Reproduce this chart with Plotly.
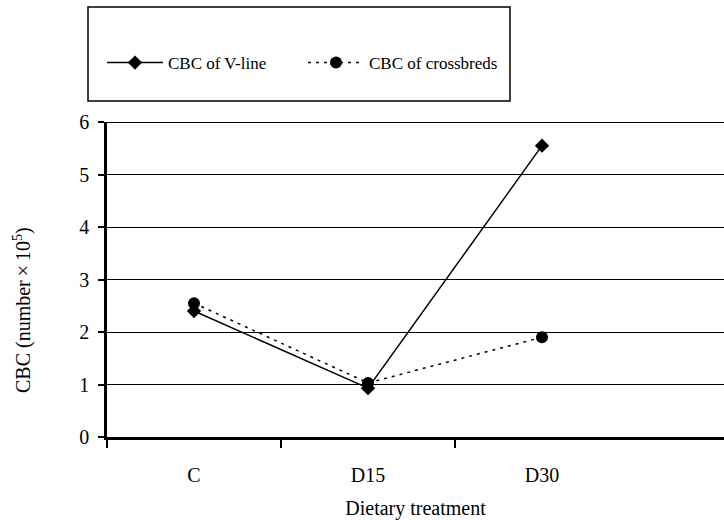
import plotly.graph_objects as go

categories = ["C", "D15", "D30"]
vline = [2.4, 0.93, 5.55]
crossbreds = [2.55, 1.03, 1.9]
yticks = [0, 1, 2, 3, 4, 5, 6]

FONT = "Liberation Serif"
xpos = list(range(len(categories)))

L, T, B = 107, 122, 83
PW, PH = 724 - L, 520 - T - B

fig = go.Figure()
fig.add_trace(go.Scatter(
    x=xpos, y=vline, mode="lines+markers", name="CBC of V-line",
    line=dict(color="black", width=1.5),
    marker=dict(symbol="diamond", size=11, color="black"),
))
fig.add_trace(go.Scatter(
    x=xpos, y=crossbreds, mode="lines+markers", name="CBC of crossbreds",
    line=dict(color="black", width=1.5, dash="3px,5px"),
    marker=dict(symbol="circle", size=12, color="black"),
))

# legend frame
fig.add_shape(type="rect", xref="paper", yref="paper",
              x0=(88 - L) / PW, x1=(510 - L) / PW,
              y0=(520 - B - 101) / PH, y1=(520 - B - 7) / PH,
              line=dict(color="black", width=1.5), fillcolor="rgba(0,0,0,0)")
# top border line of plot
fig.add_shape(type="line", xref="paper", yref="y", x0=0, x1=1, y0=6, y1=6,
              line=dict(color="black", width=2))

# y-axis title
fig.add_annotation(text="CBC (number\u2009×\u200910<sup>5</sup>)", xref="paper", yref="paper",
                   x=(22 - L) / PW, y=(520 - B - 310) / PH, textangle=-90,
                   showarrow=False, xanchor="center", yanchor="middle",
                   font=dict(family=FONT, size=20, color="black"))

fig.update_layout(
    width=724, height=520,
    margin=dict(l=L, r=0, t=T, b=B, autoexpand=False),
    paper_bgcolor="white", plot_bgcolor="white",
    font=dict(family=FONT, size=19, color="black"),
    showlegend=True,
    legend=dict(orientation="h", x=(102 - L) / PW, y=(520 - B - 63) / PH,
                xanchor="left", yanchor="middle", bgcolor="rgba(0,0,0,0)",
                font=dict(family=FONT, size=17), itemwidth=56,
                entrywidth=130),
    xaxis=dict(
        range=[-0.5, 3.046], tickvals=xpos, ticktext=categories,
        showgrid=False, zeroline=False, ticks="", ticklen=0,
        showline=True, linecolor="black", linewidth=2.5,
        tickfont=dict(size=20), ticklabelstandoff=18, automargin=False,
        minor=dict(tickmode="array", tickvals=[-0.5, 0.5, 1.5], ticks="outside",
                   ticklen=8, tickcolor="black", tickwidth=1.5, showgrid=False),
        title=dict(text="Dietary treatment", font=dict(size=20), standoff=22),
    ),
    yaxis=dict(
        range=[0, 6], tickvals=yticks, showgrid=True, gridcolor="black", gridwidth=1,
        zeroline=False, ticks="outside", ticklen=6, tickcolor="black", tickwidth=1.5,
        showline=True, linecolor="black", linewidth=2.5,
        tickfont=dict(size=20), ticklabelstandoff=5, automargin=False,
    ),
)

fig.write_html("out.html", post_script="document.body.style.margin='0';",
               config={"displayModeBar": False})
